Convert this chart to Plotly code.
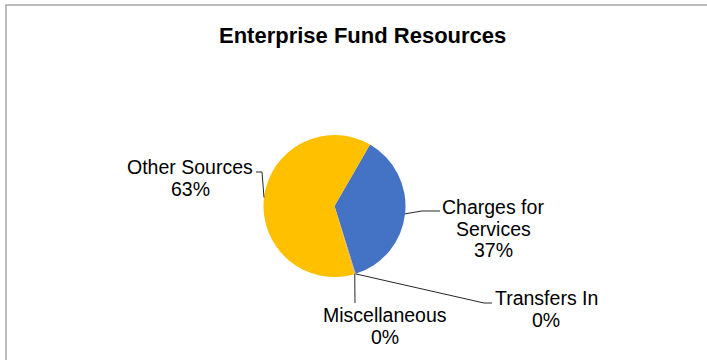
import math
import plotly.graph_objects as go

# Share of enterprise fund resources by source (percent)
categories = ["Charges for Services", "Transfers In", "Miscellaneous", "Other Sources"]
shares = [36.85, 0.12, 0.18, 62.85]
colors = ["#4472C4", "#ED7D31", "#A5A5A5", "#FFC000"]

# Label text lines for each slice (category name split over lines)
label_lines = [["Charges for", "Services"], ["Transfers In"], ["Miscellaneous"], ["Other Sources"]]

W, H = 707, 360
CX, CY, R = 334.5, 206.0, 71.0       # pie centre and radius in pixels
ROTATION = 30                        # first slice starts 30 deg clockwise of 12 o'clock

# Label block centre (pixels), leader elbow points (pixels)
label_pos = [(493, 207), (546, 298), (385, 315), (190, 167)]
line_gap = 21.5
leader_path = [
    [(422, 211), (440, 211)],
    [(484, 303), (492, 303)],
    [(355, 303)],
    [(262, 172), (256, 172)],
]

FONT = "Liberation Sans, Arial, sans-serif"


def px(x, y):
    return x / W, 1 - y / H


total = sum(shares)
fig = go.Figure()
fig.add_trace(go.Pie(
    labels=categories,
    values=shares,
    sort=False,
    direction="clockwise",
    rotation=ROTATION,
    marker=dict(colors=colors, line=dict(width=0)),
    textinfo="none",
    hoverinfo="label+percent",
    showlegend=False,
    domain=dict(x=[(CX - R) / W, (CX + R) / W], y=[1 - (CY + R) / H, 1 - (CY - R) / H]),
))

shapes = []
annotations = []
start = ROTATION
for i, v in enumerate(shares):
    span = v / total * 360
    mid = math.radians(start + span / 2)
    start += span
    ax, ay = CX + R * math.sin(mid), CY - R * math.cos(mid)
    pts = [(ax, ay)] + leader_path[i]
    path = "M " + " L ".join(f"{px(x, y)[0]:.5f},{px(x, y)[1]:.5f}" for x, y in pts)
    shapes.append(dict(type="path", xref="paper", yref="paper", path=path,
                       line=dict(color="#262626", width=1)))
    lines = label_lines[i] + [f"{round(v / total * 100):.0f}%"]
    lx, ly = label_pos[i]
    for k, t in enumerate(lines):
        x, y = px(lx, ly + k * line_gap)
        annotations.append(dict(x=x, y=y, xref="paper", yref="paper", text=t, showarrow=False,
                                xanchor="center", yanchor="middle",
                                font=dict(family=FONT, size=19.5, color="#000000")))

# Chart frame: left and top edges
shapes.append(dict(type="path", xref="paper", yref="paper",
                   path=f"M {px(6, 362)[0]},{px(6, 362)[1]} L {px(6, 5)[0]},{px(6, 5)[1]} L {px(708, 5)[0]},{px(708, 5)[1]}",
                   line=dict(color="#A6A6A6", width=1.5)))

annotations.append(dict(x=px(362, 36)[0], y=px(362, 36)[1], xref="paper", yref="paper",
                        text="<b>Enterprise Fund Resources</b>", showarrow=False,
                        xanchor="center", yanchor="middle",
                        font=dict(family=FONT, size=22, color="#000000")))

fig.update_layout(
    width=W, height=H,
    margin=dict(l=0, r=0, t=0, b=0),
    paper_bgcolor="white",
    plot_bgcolor="white",
    shapes=shapes,
    annotations=annotations,
)

fig.write_html("out.html")
